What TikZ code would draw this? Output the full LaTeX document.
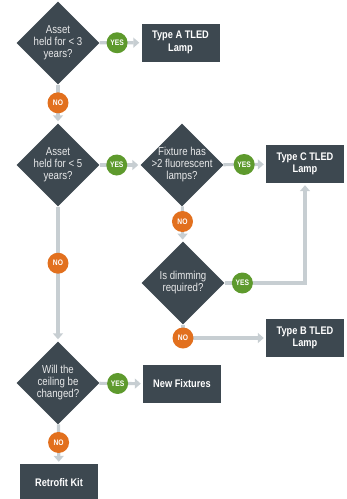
\documentclass[tikz,border=0pt]{standalone}
\usepackage{fontspec}
\setmainfont{Liberation Sans}[FakeStretch=0.84]
\usetikzlibrary{shapes.geometric,arrows.meta}

\definecolor{slate}{HTML}{3D4850}
\definecolor{leaf}{HTML}{5E9A2D}
\definecolor{rust}{HTML}{E2701E}
\definecolor{rail}{HTML}{C7CED2}

\begin{document}
\begin{tikzpicture}[
  x=1pt,
  y=-1pt,
  font=\fontsize{11.5}{12}\selectfont,
  >={Triangle[width=10pt,length=6pt]},
  decision/.style={
    diamond,
    fill=slate,
    minimum width=83pt,
    minimum height=83pt,
    inner sep=0pt
  },
  question/.style={
    text=white!88!slate,
    align=center
  },
  result/.style={
    fill=slate,
    text=white,
    font=\fontsize{11}{12.5}\selectfont\bfseries,
    align=center,
    minimum width=78pt,
    minimum height=38pt
  },
  answer/.style={
    circle,
    minimum size=21pt,
    inner sep=0pt,
    text=white,
    font=\fontsize{8}{8}\selectfont\bfseries
  },
  yes/.style={answer, fill=leaf},
  no/.style={answer, fill=rust},
  conn/.style={
    draw=rail,
    line width=3.2pt,
    ->,
    shorten >=2pt
  }
  ]
  \useasboundingbox (0,0) rectangle (347,499);

  \node [decision, label={[question]center:Asset\\held for < 3\\years?}] (Held3) at (58, 43) {};
  \node [decision, label={[question]center:Asset\\held for < 5\\years?}] (Held5) at (58, 165) {};
  \node [decision, label={[question]center:Fixture has\\>2 fluorescent\\lamps?}] (Lamps) at (182, 165) {};
  \node [decision, label={[question]center:Is dimming\\required?}] (Dimming) at (183, 283) {};
  \node [decision, label={[question]center:Will the\\ceiling be\\changed?}] (Ceiling) at (58, 383) {};

  \node [result] (TypeA) at (180.5, 42.5) {Type A TLED\\Lamp};
  \node [result] (TypeC) at (305, 164) {Type C TLED\\Lamp};
  \node [result] (TypeB) at (305, 338) {Type B TLED\\Lamp};
  \node [result] (NewFix) at (182, 384) {New Fixtures};
  \node [result] (Retrofit) at (59, 483) {Retrofit Kit};

  \draw [conn] (Held3) to node [yes, pos=0.42] {YES} (TypeA);
  \draw [conn] (Held3) to node [no, pos=0.47] {NO} (Held5);
  \draw [conn] (Held5) to node [yes, pos=0.42] {YES} (Lamps);
  \draw [conn] (Held5) to node [no, pos=0.42] {NO} (Ceiling);
  \draw [conn] (Lamps) to node [yes, pos=0.49] {YES} (TypeC);
  \draw [conn] (Lamps) to node [no, pos=0.43] {NO} (Dimming);
  \draw [conn] (Dimming.east) -| node [yes, pos=0.11] {YES} (TypeC.south);
  \draw [conn] (Dimming.south) |- node [no, pos=0.5] {NO} (TypeB.west);
  \draw [conn] (Ceiling) to node [yes, pos=0.42] {YES} (NewFix);
  \draw [conn] (Ceiling) to node [no, pos=0.46] {NO} (Retrofit);
\end{tikzpicture}
\end{document}
